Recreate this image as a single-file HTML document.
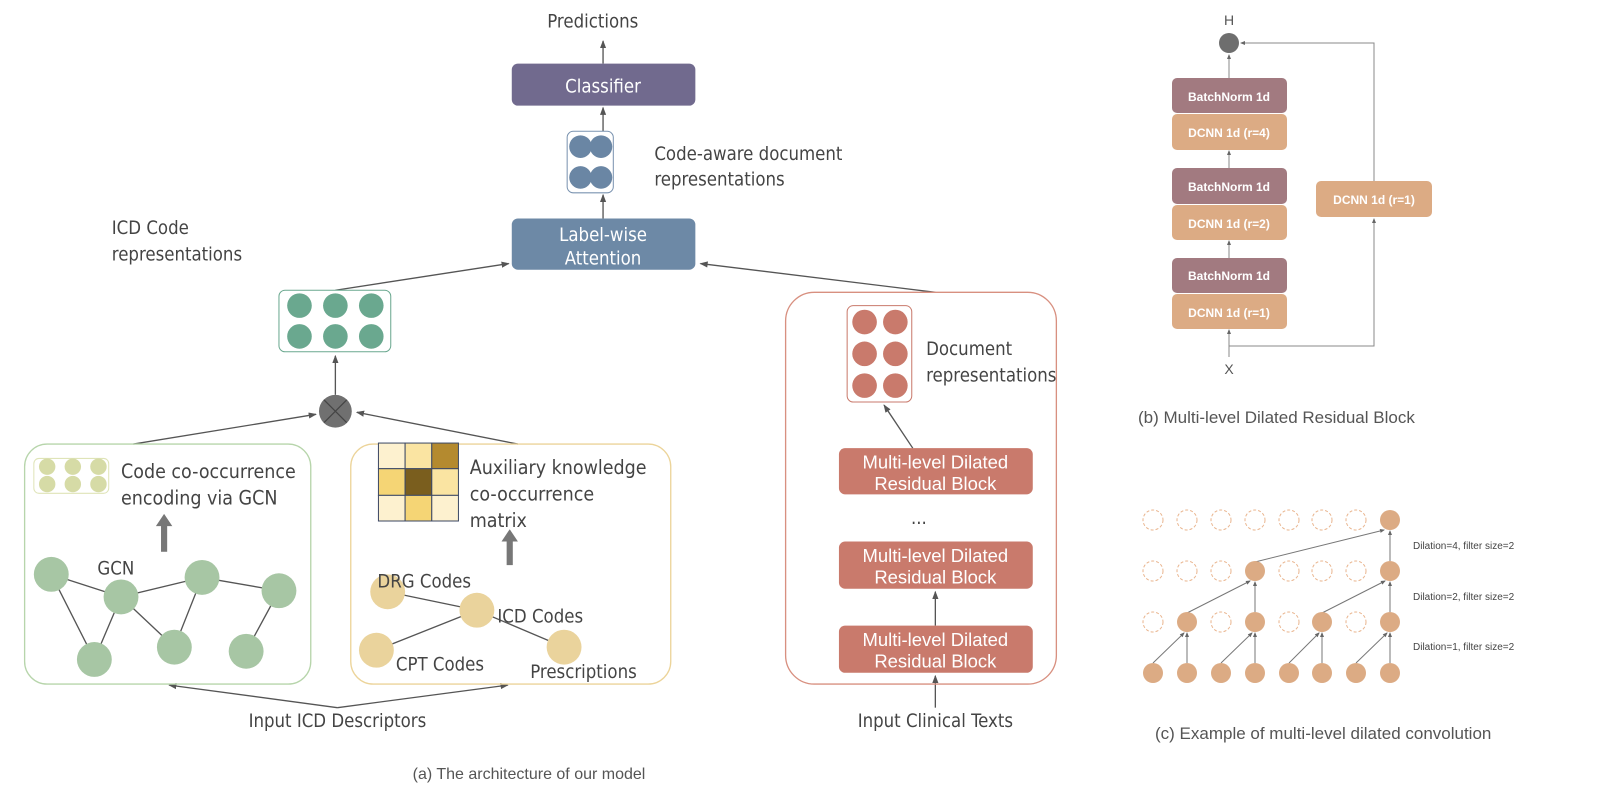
<!DOCTYPE html>
<html><head><meta charset="utf-8"><style>
html,body{margin:0;padding:0;background:#fff}
svg{display:block}
text{font-family:"Liberation Sans",sans-serif}
.c{font-family:"DejaVu Sans Condensed","Liberation Sans Narrow","Liberation Sans",sans-serif;fill:#444}
</style></head><body>
<svg width="1600" height="791" viewBox="0 0 1600 791" xmlns="http://www.w3.org/2000/svg">
<defs>
<marker id="a" markerWidth="8" markerHeight="8" refX="7" refY="4" orient="auto" markerUnits="userSpaceOnUse"><path d="M0,1 L8,4 L0,7 Z" fill="#555"/></marker>
<marker id="s" markerWidth="5" markerHeight="5" refX="4" refY="2.5" orient="auto" markerUnits="userSpaceOnUse"><path d="M0,0.5 L5,2.5 L0,4.5 Z" fill="#666"/></marker>
</defs>
<g transform="scale(1.0256)">
<g stroke="#555" stroke-width="1.3" fill="none">
<line x1="588" y1="62" x2="588" y2="40" marker-end="url(#a)"/>
<line x1="588" y1="128" x2="588" y2="105" marker-end="url(#a)"/>
<line x1="588" y1="213" x2="588" y2="190" marker-end="url(#a)"/>
<line x1="327" y1="283" x2="496" y2="257" marker-end="url(#a)"/>
<line x1="912" y1="285" x2="683" y2="257" marker-end="url(#a)"/>
<line x1="327" y1="385" x2="327" y2="347" marker-end="url(#a)"/>
<line x1="130" y1="433" x2="308" y2="404" marker-end="url(#a)"/>
<line x1="505" y1="433" x2="348" y2="402" marker-end="url(#a)"/>
<line x1="329" y1="690" x2="165" y2="668" marker-end="url(#a)"/>
<line x1="329" y1="690" x2="495" y2="668" marker-end="url(#a)"/>
<line x1="912" y1="690" x2="912" y2="659" marker-end="url(#a)"/>
<line x1="912" y1="610" x2="912" y2="577" marker-end="url(#a)"/>
<line x1="890" y1="437" x2="862" y2="395" marker-end="url(#a)"/>
</g>
<text x="578" y="27" font-size="18" class="c" text-anchor="middle">Predictions</text>
<rect x="499" y="62" width="179" height="41" rx="6" fill="#716a8e"/>
<text x="588" y="90" font-size="18" class="c" style="fill:#fff" text-anchor="middle">Classifier</text>
<rect x="553" y="128" width="45" height="60" rx="6" fill="#fff" stroke="#7a93b0"/>
<g fill="#6a86a4"><circle cx="566" cy="143" r="11"/><circle cx="586" cy="143" r="11"/><circle cx="566" cy="173" r="11"/><circle cx="586" cy="173" r="11"/></g>
<text x="638" y="156" font-size="18" class="c">Code-aware document</text>
<text x="638" y="181" font-size="18" class="c">representations</text>
<rect x="499" y="213" width="179" height="50" rx="6" fill="#6d89a6"/>
<text x="588" y="235" font-size="18" class="c" style="fill:#fff" text-anchor="middle">Label-wise</text>
<text x="588" y="258" font-size="18" class="c" style="fill:#fff" text-anchor="middle">Attention</text>
<text x="109" y="228" font-size="18" class="c">ICD Code</text>
<text x="109" y="254" font-size="18" class="c">representations</text>
<rect x="272" y="283" width="109" height="60" rx="6" fill="#fff" stroke="#6aa88f"/>
<g fill="#6aa88f"><circle cx="292" cy="298" r="12"/><circle cx="327" cy="298" r="12"/><circle cx="362" cy="298" r="12"/><circle cx="292" cy="328" r="12"/><circle cx="327" cy="328" r="12"/><circle cx="362" cy="328" r="12"/></g>
<circle cx="327" cy="401" r="16" fill="#707070"/>
<path d="M316,390 L338,412 M338,390 L316,412" stroke="#444" stroke-width="1.2"/>
<rect x="24" y="433" width="279" height="234" rx="22" fill="none" stroke="#b7d5ab" stroke-width="1.3"/>
<rect x="33" y="447" width="73" height="34" rx="5" fill="#fff" stroke="#dfe4b8"/>
<g fill="#d6dba6"><ellipse cx="46" cy="455" rx="8" ry="8"/><ellipse cx="71" cy="455" rx="8" ry="8"/><ellipse cx="96" cy="455" rx="8" ry="8"/><ellipse cx="46" cy="472" rx="8" ry="8"/><ellipse cx="71" cy="472" rx="8" ry="8"/><ellipse cx="96" cy="472" rx="8" ry="8"/></g>
<text x="118" y="466" font-size="19" class="c">Code co-occurrence</text>
<text x="118" y="492" font-size="19" class="c">encoding via GCN</text>
<rect x="157" y="512" width="6" height="26" fill="#777"/><path d="M152,513 L160,501 L168,513 Z" fill="#777"/>
<text x="95" y="560" font-size="18" class="c">GCN</text>
<g stroke="#555" stroke-width="1.3"><line x1="50" y1="560" x2="118" y2="582"/><line x1="118" y1="582" x2="197" y2="563"/><line x1="197" y1="563" x2="272" y2="576"/><line x1="50" y1="560" x2="92" y2="643"/><line x1="118" y1="582" x2="92" y2="643"/><line x1="118" y1="582" x2="170" y2="631"/><line x1="197" y1="563" x2="170" y2="631"/><line x1="272" y1="576" x2="240" y2="635"/></g>
<g fill="#a7c6a4"><ellipse cx="50" cy="560" rx="17" ry="17"/><ellipse cx="118" cy="582" rx="17" ry="17"/><ellipse cx="197" cy="563" rx="17" ry="17"/><ellipse cx="272" cy="576" rx="17" ry="17"/><ellipse cx="92" cy="643" rx="17" ry="17"/><ellipse cx="170" cy="631" rx="17" ry="17"/><ellipse cx="240" cy="635" rx="17" ry="17"/></g>
<rect x="342" y="433" width="312" height="234" rx="22" fill="none" stroke="#ecd49a" stroke-width="1.3"/>
<g stroke="#3e4a66" stroke-width="1">
<rect x="369" y="432" width="26" height="25" fill="#fdf1cf"/><rect x="395" y="432" width="26" height="25" fill="#fae4a2"/><rect x="421" y="432" width="26" height="25" fill="#b48a2f"/>
<rect x="369" y="457" width="26" height="26" fill="#f5d575"/><rect x="395" y="457" width="26" height="26" fill="#7a5e1e"/><rect x="421" y="457" width="26" height="26" fill="#fae4a2"/>
<rect x="369" y="483" width="26" height="25" fill="#fdf1cf"/><rect x="395" y="483" width="26" height="25" fill="#f5d575"/><rect x="421" y="483" width="26" height="25" fill="#fdf1cf"/></g>
<text x="458" y="462" font-size="19" class="c">Auxiliary knowledge</text>
<text x="458" y="488" font-size="19" class="c">co-occurrence</text>
<text x="458" y="514" font-size="19" class="c">matrix</text>
<rect x="494" y="527" width="6" height="24" fill="#777"/><path d="M489,528 L497,516 L505,528 Z" fill="#777"/>
<g stroke="#555" stroke-width="1.3"><line x1="378" y1="577" x2="465" y2="595"/><line x1="465" y1="595" x2="367" y2="634"/><line x1="465" y1="595" x2="550" y2="631"/></g>
<g fill="#ead39c"><circle cx="378" cy="577" r="17"/><circle cx="465" cy="595" r="17"/><circle cx="367" cy="634" r="17"/><circle cx="550" cy="631" r="17"/></g>
<text x="368" y="573" font-size="18" class="c">DRG Codes</text>
<text x="485" y="607" font-size="18" class="c">ICD Codes</text>
<text x="386" y="654" font-size="18" class="c">CPT Codes</text>
<text x="517" y="661" font-size="18" class="c">Prescriptions</text>
<text x="329" y="709" font-size="18" class="c" text-anchor="middle">Input ICD Descriptors</text>
<rect x="766" y="285" width="264" height="382" rx="28" fill="none" stroke="#d89080" stroke-width="1.3"/>
<rect x="826" y="298" width="63" height="94" rx="6" fill="#fff" stroke="#c97a6c"/>
<g fill="#c97a6c"><circle cx="843" cy="314" r="12"/><circle cx="873" cy="314" r="12"/><circle cx="843" cy="345" r="12"/><circle cx="873" cy="345" r="12"/><circle cx="843" cy="376" r="12"/><circle cx="873" cy="376" r="12"/></g>
<text x="903" y="346" font-size="18" class="c">Document</text>
<text x="903" y="372" font-size="18" class="c">representations</text>
<g fill="#c97a6c"><rect x="818" y="437" width="189" height="45" rx="6"/><rect x="818" y="528" width="189" height="46" rx="6"/><rect x="818" y="610" width="189" height="46" rx="6"/></g>
<g font-size="18" class="c" text-anchor="middle">
<text x="912" y="457" style="fill:#fff">Multi-level Dilated</text><text x="912" y="478" style="fill:#fff">Residual Block</text>
<text x="912" y="548" style="fill:#fff">Multi-level Dilated</text><text x="912" y="569" style="fill:#fff">Residual Block</text>
<text x="912" y="630" style="fill:#fff">Multi-level Dilated</text><text x="912" y="651" style="fill:#fff">Residual Block</text></g>
<text x="896" y="511" font-size="18" class="c" text-anchor="middle">...</text>
<text x="912" y="709" font-size="18" class="c" text-anchor="middle">Input Clinical Texts</text>
</g>
<text x="529" y="779" font-size="16" fill="#555" text-anchor="middle">(a) The architecture of our model</text>
<text x="1229" y="25" font-size="14" fill="#555" text-anchor="middle">H</text>
<g stroke="#888" stroke-width="1" fill="none">
<line x1="1229" y1="78" x2="1229" y2="55" marker-end="url(#s)"/>
<line x1="1229" y1="168" x2="1229" y2="151" marker-end="url(#s)"/>
<line x1="1229" y1="258" x2="1229" y2="241" marker-end="url(#s)"/>
<line x1="1229" y1="357" x2="1229" y2="330" marker-end="url(#s)"/>
<polyline points="1229,346 1374,346 1374,219" marker-end="url(#s)"/>
<polyline points="1374,181 1374,43 1241,43" marker-end="url(#s)"/>
</g>
<circle cx="1229" cy="43" r="10" fill="#6e6e6e"/>
<g font-size="12" font-weight="bold" fill="#fff" text-anchor="middle">
<rect x="1172" y="78" width="115" height="35" rx="5" fill="#a27a80"/><text x="1229" y="101">BatchNorm 1d</text>
<rect x="1172" y="114" width="115" height="36" rx="5" fill="#dcab84"/><text x="1229" y="137">DCNN 1d (r=4)</text>
<rect x="1172" y="168" width="115" height="36" rx="5" fill="#a27a80"/><text x="1229" y="191">BatchNorm 1d</text>
<rect x="1172" y="205" width="115" height="35" rx="5" fill="#dcab84"/><text x="1229" y="228">DCNN 1d (r=2)</text>
<rect x="1172" y="258" width="115" height="35" rx="5" fill="#a27a80"/><text x="1229" y="280">BatchNorm 1d</text>
<rect x="1172" y="294" width="115" height="35" rx="5" fill="#dcab84"/><text x="1229" y="317">DCNN 1d (r=1)</text>
<rect x="1316" y="181" width="116" height="36" rx="5" fill="#dcab84"/><text x="1374" y="204">DCNN 1d (r=1)</text>
</g>
<text x="1229" y="374" font-size="14" fill="#555" text-anchor="middle">X</text>
<text x="1138" y="423" font-size="17" fill="#555">(b) Multi-level Dilated Residual Block</text>
<g stroke="#e9b48d" stroke-dasharray="3,2" fill="none" stroke-width="1">
<circle cx="1153" cy="520" r="10"/><circle cx="1187" cy="520" r="10"/><circle cx="1221" cy="520" r="10"/><circle cx="1255" cy="520" r="10"/><circle cx="1289" cy="520" r="10"/><circle cx="1322" cy="520" r="10"/><circle cx="1356" cy="520" r="10"/>
<circle cx="1153" cy="571" r="10"/><circle cx="1187" cy="571" r="10"/><circle cx="1221" cy="571" r="10"/><circle cx="1289" cy="571" r="10"/><circle cx="1322" cy="571" r="10"/><circle cx="1356" cy="571" r="10"/>
<circle cx="1153" cy="622" r="10"/><circle cx="1221" cy="622" r="10"/><circle cx="1289" cy="622" r="10"/><circle cx="1356" cy="622" r="10"/>
</g>
<g stroke="#777" stroke-width="1" fill="none">
<line x1="1255" y1="562" x2="1384" y2="530" marker-end="url(#s)"/><line x1="1390" y1="561" x2="1390" y2="531" marker-end="url(#s)"/>
<line x1="1187" y1="613" x2="1250" y2="581" marker-end="url(#s)"/><line x1="1255" y1="612" x2="1255" y2="582" marker-end="url(#s)"/>
<line x1="1322" y1="613" x2="1385" y2="581" marker-end="url(#s)"/><line x1="1390" y1="612" x2="1390" y2="582" marker-end="url(#s)"/>
<line x1="1153" y1="663" x2="1184" y2="633" marker-end="url(#s)"/><line x1="1187" y1="663" x2="1187" y2="633" marker-end="url(#s)"/>
<line x1="1221" y1="663" x2="1252" y2="633" marker-end="url(#s)"/><line x1="1255" y1="663" x2="1255" y2="633" marker-end="url(#s)"/>
<line x1="1289" y1="663" x2="1319" y2="633" marker-end="url(#s)"/><line x1="1322" y1="663" x2="1322" y2="633" marker-end="url(#s)"/>
<line x1="1356" y1="663" x2="1387" y2="633" marker-end="url(#s)"/><line x1="1390" y1="663" x2="1390" y2="633" marker-end="url(#s)"/>
</g>
<g fill="#dcab84">
<circle cx="1390" cy="520" r="10"/>
<circle cx="1255" cy="571" r="10"/><circle cx="1390" cy="571" r="10"/>
<circle cx="1187" cy="622" r="10"/><circle cx="1255" cy="622" r="10"/><circle cx="1322" cy="622" r="10"/><circle cx="1390" cy="622" r="10"/>
<circle cx="1153" cy="673" r="10"/><circle cx="1187" cy="673" r="10"/><circle cx="1221" cy="673" r="10"/><circle cx="1255" cy="673" r="10"/><circle cx="1289" cy="673" r="10"/><circle cx="1322" cy="673" r="10"/><circle cx="1356" cy="673" r="10"/><circle cx="1390" cy="673" r="10"/>
</g>
<g font-size="10" class="c"><text x="1413" y="549">Dilation=4, filter size=2</text><text x="1413" y="600">Dilation=2, filter size=2</text><text x="1413" y="650">Dilation=1, filter size=2</text></g>
<text x="1155" y="739" font-size="17" fill="#555">(c) Example of multi-level dilated convolution</text>
</svg>
</body></html>
